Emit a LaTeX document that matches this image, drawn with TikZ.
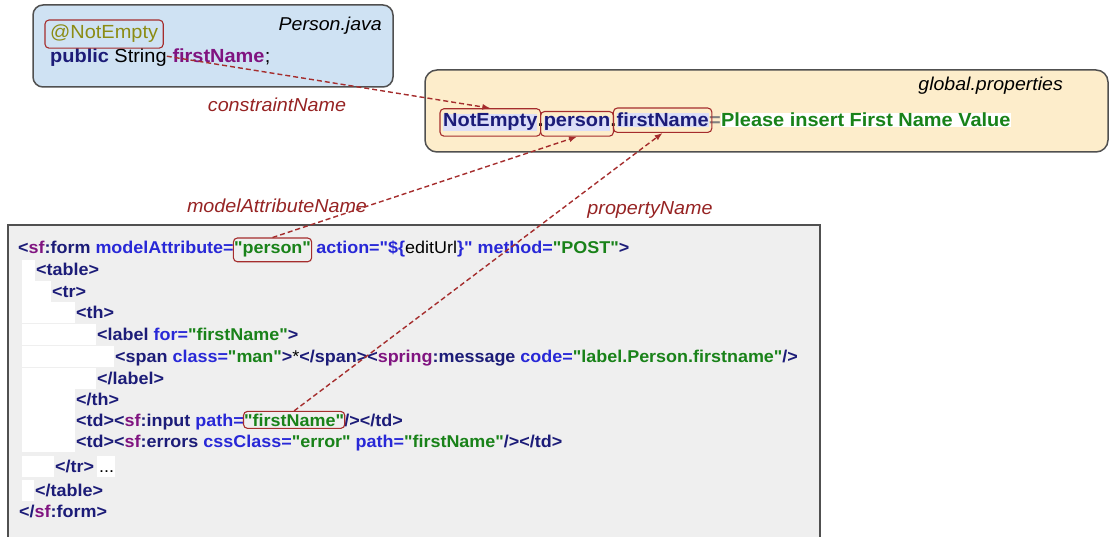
\documentclass[tikz,border=0pt]{standalone}
\usepackage{fontspec}
\setmainfont{Liberation Sans}
\newfontfamily\lsans{Liberation Sans}[FakeStretch=1.05]
\usetikzlibrary{arrows.meta,positioning,fit,calc}

\definecolor{tagc}{RGB}{28,28,120}
\definecolor{nsc}{RGB}{128,20,128}
\definecolor{attc}{RGB}{40,40,215}
\definecolor{valc}{RGB}{25,130,25}
\definecolor{annc}{RGB}{140,140,20}
\definecolor{linkc}{RGB}{165,45,45}
\definecolor{labc}{RGB}{150,35,35}
\definecolor{javafill}{RGB}{207,226,243}
\definecolor{propfill}{RGB}{253,237,203}
\definecolor{codefill}{RGB}{239,239,239}
\definecolor{edgec}{RGB}{80,80,80}
\definecolor{lav}{RGB}{220,222,248}

\newcommand{\ctag}[1]{\textcolor{tagc}{#1}}
\newcommand{\cns}[1]{\textcolor{nsc}{#1}}
\newcommand{\cattr}[1]{\textcolor{attc}{#1}}
\newcommand{\cval}[1]{\textcolor{valc}{#1}}
\newcommand{\codefont}{\lsans\fontsize{17.1}{20}\selectfont\bfseries}

\begin{document}
\begin{tikzpicture}[x=1pt, y=-1pt,
  panel/.style={draw=edgec, line width=1.5pt},
  codeln/.style={font=\codefont, inner sep=0pt, anchor=base west},
  javaln/.style={font=\lsans\fontsize{19}{22}\selectfont, inner sep=0pt, anchor=base west},
  propln/.style={font=\lsans\fontsize{19}{22}\selectfont\bfseries, inner sep=0pt, anchor=base west},
  hlw/.style={propln, fill=lav, text=tagc},
  fname/.style={font=\lsans\fontsize{18.6}{22}\selectfont\itshape, inner sep=0pt, anchor=base east},
  tag/.style={font=\lsans\fontsize{18.8}{22}\selectfont\itshape, text=labc, inner sep=0pt, anchor=base},
  hlbox/.style={draw=linkc, line width=1.1pt, rounded corners=4pt},
  link/.style={draw=linkc, line width=1.4pt, dash pattern=on 5pt off 3pt, -{Latex[length=8pt,width=6pt]}}]
\useasboundingbox (0,0) rectangle (1110,537);

% panels
\draw[panel, fill=javafill, rounded corners=10pt] (33,5) rectangle (393,87);
\draw[panel, fill=propfill, rounded corners=12pt] (425,70) rectangle (1108,152);
\draw[panel, fill=codefill] (8,225) rectangle (820,560);
\foreach \yb/\xe in {276/35, 297/51, 318/75, 340/96, 362/114, 384/96, 405/75, 426/75, 447/75, 472/54, 496/34}
  \fill[white] (22,\yb-16) rectangle (\xe,\yb+5);
\fill[white] (97,456) rectangle (115,477);

% Person.java
\node[fname] (pj) at (382,31) {Person.java};
\node[javaln, text=annc] (ann) at (50,39) {@NotEmpty};
\node[javaln] (jpub) at (50,63) {\ctag{\bfseries public}\ String};
\node[javaln, font=\lsans\fontsize{19}{22}\selectfont\bfseries, text=nsc] (jfn) at (jpub.base east) {\ firstName};
\node[javaln] (jsc) at (jfn.base east) {;};
\node[hlbox, inner xsep=5pt, inner ysep=5pt, fit=(ann)] (annb) {};

% global.properties
\node[fname] (gp) at (1063,91) {global.properties};
\node[hlw] (ne) at (443,127) {NotEmpty};
\node[propln] (d1) at (ne.base east) {.};
\node[hlw] (pp) at (d1.base east) {person};
\node[propln] (d2) at (pp.base east) {.};
\node[hlw] (fp) at (d2.base east) {firstName};
\node[propln, text=gray] (eq) at (fp.base east) {=};
\node[propln, fill=white, text=valc] (msg) at (eq.base east) {Please insert First Name Value};
\node[hlbox, inner xsep=3pt, inner ysep=5pt, fit=(ne)] (neb) {};
\node[hlbox, inner xsep=3pt, inner ysep=5pt, fit=(pp)] (ppb) {};
\node[hlbox, inner xsep=3pt, inner ysep=5pt, fit=(fp)] (fpb) {};

% jsp form
\node[codeln] (l1a) at (18,254) {\ctag{<}\cns{sf}\ctag{:form}\cattr{\ modelAttribute=}};
\node[codeln] (pers) at (l1a.base east) {\cval{"person"}};
\node[codeln] (l1b) at (pers.base east) {\cattr{\ action="\$\{}{\mdseries editUrl}\cattr{\}"\ method=}\cval{"POST"}\ctag{>}};
\node[codeln] (l2) at (36,276) {\ctag{<table>}};
\node[codeln] (l3) at (52,297) {\ctag{<tr>}};
\node[codeln] (l4) at (76,318) {\ctag{<th>}};
\node[codeln] (l5) at (97,340) {\ctag{<label}\cattr{\ for=}\cval{"firstName"}\ctag{>}};
\node[codeln] (l6) at (115,362) {\ctag{<span}\cattr{\ class=}\cval{"man"}\ctag{>}{\mdseries *}\ctag{</span><}\cns{spring}\ctag{:message}\cattr{\ code=}\cval{"label.Person.firstname"}\ctag{/>}};
\node[codeln] (l7) at (97,384) {\ctag{</label>}};
\node[codeln] (l8) at (76,405) {\ctag{</th>}};
\node[codeln] (l9a) at (76,426) {\ctag{<td><}\cns{sf}\ctag{:input}\cattr{\ path=}};
\node[codeln] (tdfn) at (l9a.base east) {\cval{"firstName"}};
\node[codeln] (l9b) at (tdfn.base east) {\ctag{/></td>}};
\node[codeln] (l10) at (76,447) {\ctag{<td><}\cns{sf}\ctag{:errors}\cattr{\ cssClass=}\cval{"error"}\cattr{\ path=}\cval{"firstName"}\ctag{/></td>}};
\node[codeln] (l11) at (55,472) {\ctag{</tr>}{\mdseries\ ...}};
\node[codeln] (l12) at (35,496) {\ctag{</table>}};
\node[codeln] (l13) at (19,517) {\ctag{</}\cns{sf}\ctag{:form>}};
\node[hlbox, inner xsep=0.5pt, inner ysep=4pt, fit=(pers)] (persb) {};
\node[hlbox, inner xsep=0.5pt, inner ysep=2pt, fit=(tdfn)] (tdfnb) {};

% links
\node[tag] (cn) at (277,112) {constraintName};
\node[tag] (man) at (277,213) {modelAttributeName};
\node[tag] (pn) at (650,215) {propertyName};
\draw[link] (jfn.west) -- (neb.north);
\draw[link] (persb.north) -- (ppb.south);
\draw[link] (tdfnb.north) -- (fpb.south);
\end{tikzpicture}
\end{document}
